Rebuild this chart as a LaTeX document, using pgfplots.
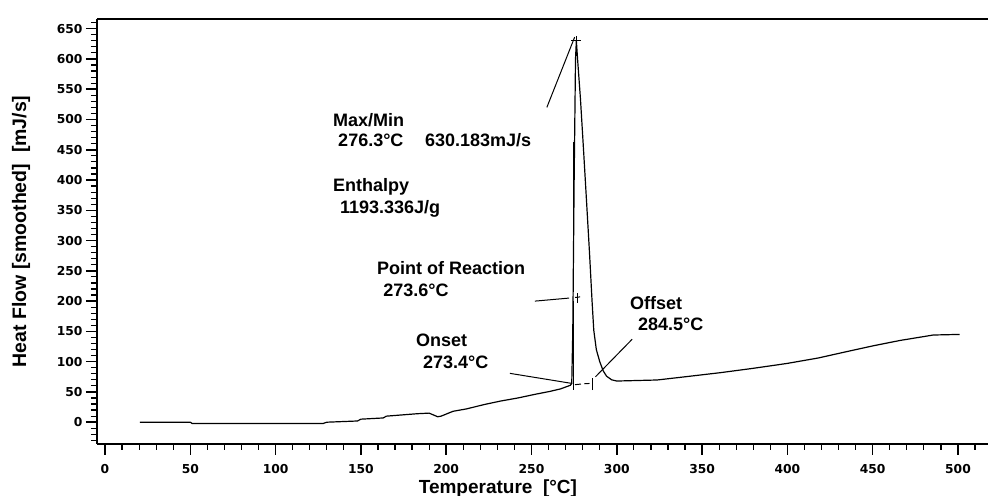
\documentclass[border=0pt]{standalone}
\usepackage{fontspec}
\setmainfont{Liberation Sans}
\newfontfamily\tickfont{DejaVu Sans}
\usepackage{pgfplots}
\pgfplotsset{compat=1.18}
\usetikzlibrary{calc}

\begin{document}
\begin{tikzpicture}
\begin{axis}[
    scale only axis,
    width=891pt, height=425pt,
    xmin=-4.7, xmax=517.6,
    ymin=-36, ymax=666,
    axis x line=box, axis y line=left,
    axis line style={line width=1.6pt, -},
    xtick pos=left,
    tick align=outside,
    xtick={0,50,...,500},
    minor xtick={0,10,...,510},
    ytick={0,50,...,650},
    minor ytick={-30,-20,...,660},
    major tick length=11pt, minor tick length=6pt,
    every major tick/.style={line width=1.5pt, black},
    every minor tick/.style={line width=1.2pt, black},
    /pgf/number format/assume math mode=true,
    ticklabel style={font=\tickfont\bfseries\fontsize{12.3}{13}\selectfont},
    xticklabel style={yshift=-6pt},
    xlabel={Temperature\ \ [°C]},
    ylabel={Heat Flow [smoothed]\ \ [mJ/s]},
    every axis x label/.style={at={(axis description cs:0.45,0)}, anchor=north,
        yshift=-32pt, font=\bfseries\fontsize{19}{20}\selectfont},
    every axis y label/.style={at={(axis description cs:0,0.50)}, anchor=center,
        rotate=90, yshift=76pt, font=\bfseries\fontsize{19.5}{20}\selectfont},
    clip=false,
]
\coordinate (sw) at (rel axis cs:0,0);
\coordinate (ne) at (rel axis cs:1,1);

% DSC curve
\addplot[black, line width=1.2pt] coordinates {
    (20.5,0) (50,0) (51,-2) (100,-2) (128,-2) (130,0) (148,2) (150,5)
    (163,7) (165,10) (183,14) (190,15) (195,9) (197,10) (204,18) (212,22)
    (222,29) (232,35) (242,40) (252,46) (261,51) (267,55) (272.8,61)
    (273.6,64) (274.2,150) (275,400) (275.8,600) (276.3,630) (277,600)
    (278.7,534) (280.5,450) (282.2,368) (284,280) (285.5,200) (286.5,152)
    (288,120) (290,100) (292,85) (294,76) (297,70) (300,68) (323.6,69.7)
    (340,75) (360.7,81.8) (380,89) (399.7,97) (418,106) (434.8,116.6)
    (450,126) (466,135) (485.5,144) (501,145)
};
% peak marker
\addplot[black, only marks, mark=+, mark size=5pt, line width=1pt] coordinates {(276.3,630)};

% annotation lines
\draw[line width=1pt] (axis cs:275.3,636) -- (axis cs:259,520);
\draw[line width=1pt] (axis cs:274.6,462) -- (axis cs:274.6,215);
\draw[line width=1pt] (axis cs:274.6,200) -- (axis cs:274.6,53);
\draw[line width=1pt] (axis cs:252,200) -- (axis cs:272,205);
\draw[line width=1pt] (axis cs:275.5,206) -- (axis cs:278.5,207);
\draw[line width=1pt] (axis cs:276.7,197) -- (axis cs:276.7,214);
\draw[line width=1pt] (axis cs:237.3,80.7) -- (axis cs:273.8,64);
\draw[line width=1pt] (axis cs:275.5,62) -- (axis cs:279,63);
\draw[line width=1pt] (axis cs:281,63.5) -- (axis cs:284,64);
\draw[line width=1pt] (axis cs:286,53) -- (axis cs:286,73);
\draw[line width=1pt] (axis cs:309,137) -- (axis cs:287.5,75);

% annotation texts
\tikzset{ann/.style={anchor=west, inner sep=0pt, font=\bfseries\fontsize{18}{19}\selectfont}}
\node[ann] at (axis cs:133.6,499) {Max/Min};
\node[ann] at (axis cs:136.6,466) {276.3°C\hspace{1.2em}630.183mJ/s};
\node[ann] at (axis cs:133.6,388) {Enthalpy};
\node[ann] at (axis cs:137.7,352) {1193.336J/g};
\node[ann] at (axis cs:159.4,254.5) {Point of Reaction};
\node[ann] at (axis cs:163,218) {273.6°C};
\node[ann] at (axis cs:182.3,135.5) {Onset};
\node[ann] at (axis cs:186.4,99) {273.4°C};
\node[ann] at (axis cs:307.7,196.7) {Offset};
\node[ann] at (axis cs:312.4,162) {284.5°C};
\end{axis}
\pgfresetboundingbox
\path ($(sw)+(-97pt,-52pt)$) rectangle ($(ne)+(0pt,19pt)$);
\end{tikzpicture}
\end{document}
